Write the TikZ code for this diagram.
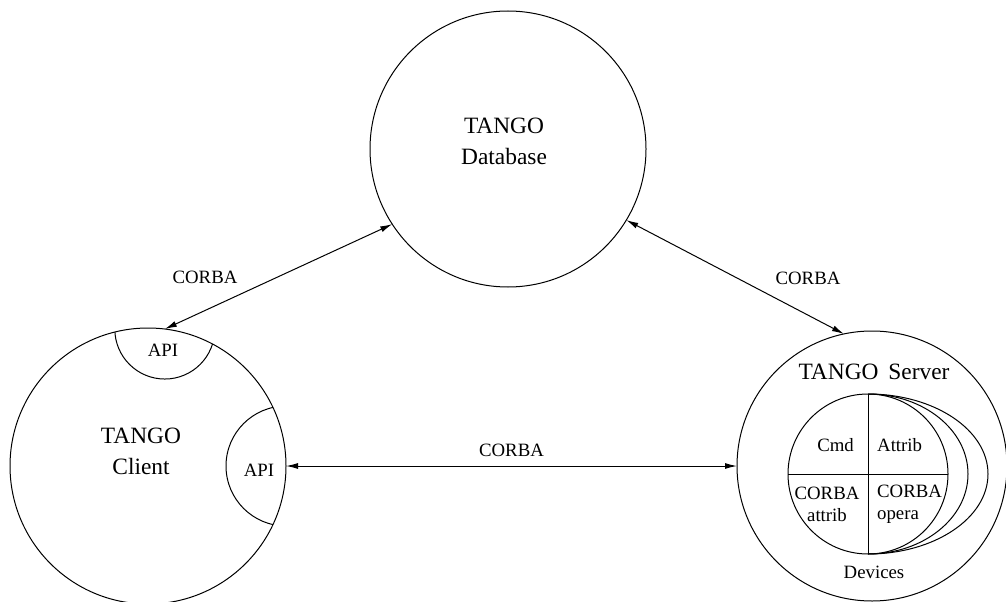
\documentclass[tikz,border=0pt]{standalone}
\usepackage{fontspec}
\setmainfont{Liberation Serif}
\usetikzlibrary{arrows.meta}

\tikzset{
	big/.style={font=\fontsize{11.7}{15.5}\selectfont, align=center},
	small/.style={font=\fontsize{9.4}{11}\selectfont, align=center},
	bubble/.style={circle, draw, inner sep=0pt, outer sep=0pt},
	corba/.style={{Latex[length=6pt,width=3pt]}-{Latex[length=6pt,width=3pt]}}
}

\begin{document}
\begin{tikzpicture}[x=0.5pt,y=0.5pt,line width=0.5pt]
			\useasboundingbox (0,0) rectangle (1006,601);
			\node[bubble, minimum size=138pt] (Db) at (508,452) {};
			\node[bubble, minimum size=138pt] (Client) at (148,135) {};
			\node[bubble, minimum size=135pt] (Server) at (872,135) {};
			\node[big] (DbText) at (504,460) {TANGO\\Database};
			\node[big] (ClientText) at (141,150) {TANGO\\Client};
			\node[big] (ServerText) at (874,229) {TANGO\hspace{2pt} Server};
			\begin{scope}
				\clip (Client.center) circle (138);
				\draw (Client.83) circle (50);
				\draw (Client.east) circle (60);
			\end{scope}
			\node[small] (ApiTop) at (163,251) {API};
			\node[small] (ApiSide) at (259,131) {API};
			\node[bubble, minimum size=80pt] (Dev) at (868,127) {};
			\draw (Dev.north) arc[start angle=90, end angle=-90, x radius=100, y radius=80];
			\draw (Dev.north) arc[start angle=90, end angle=-90, x radius=120, y radius=80];
			\draw (Dev.north) -- (Dev.south);
			\draw (Dev.west) -- (Dev.east);
			\node[small, anchor=east] (Cmd) at (861,156) {Cmd};
			\node[small, anchor=west] (Attrib) at (870,156) {Attrib};
			\node[small] (CorbaAttrib) at (827,97) {CORBA\\attrib};
			\node[small, align=left, anchor=west] (CorbaOpera) at (870,97) {CORBA\\opera};
			\node[small] (Devices) at (874,29) {Devices};
			\node[small] (CorbaLeft) at (205,324) {CORBA};
			\node[small] (CorbaRight) at (808,323) {CORBA};
			\draw[corba] (Client.83) -- (Db.213);
			\draw[corba] (Db.329) -- (Server.102);
			\draw[corba] (Client.east) -- node[small, above=1pt] (CorbaMid) {CORBA} (Server.west);
\end{tikzpicture}
\end{document}
